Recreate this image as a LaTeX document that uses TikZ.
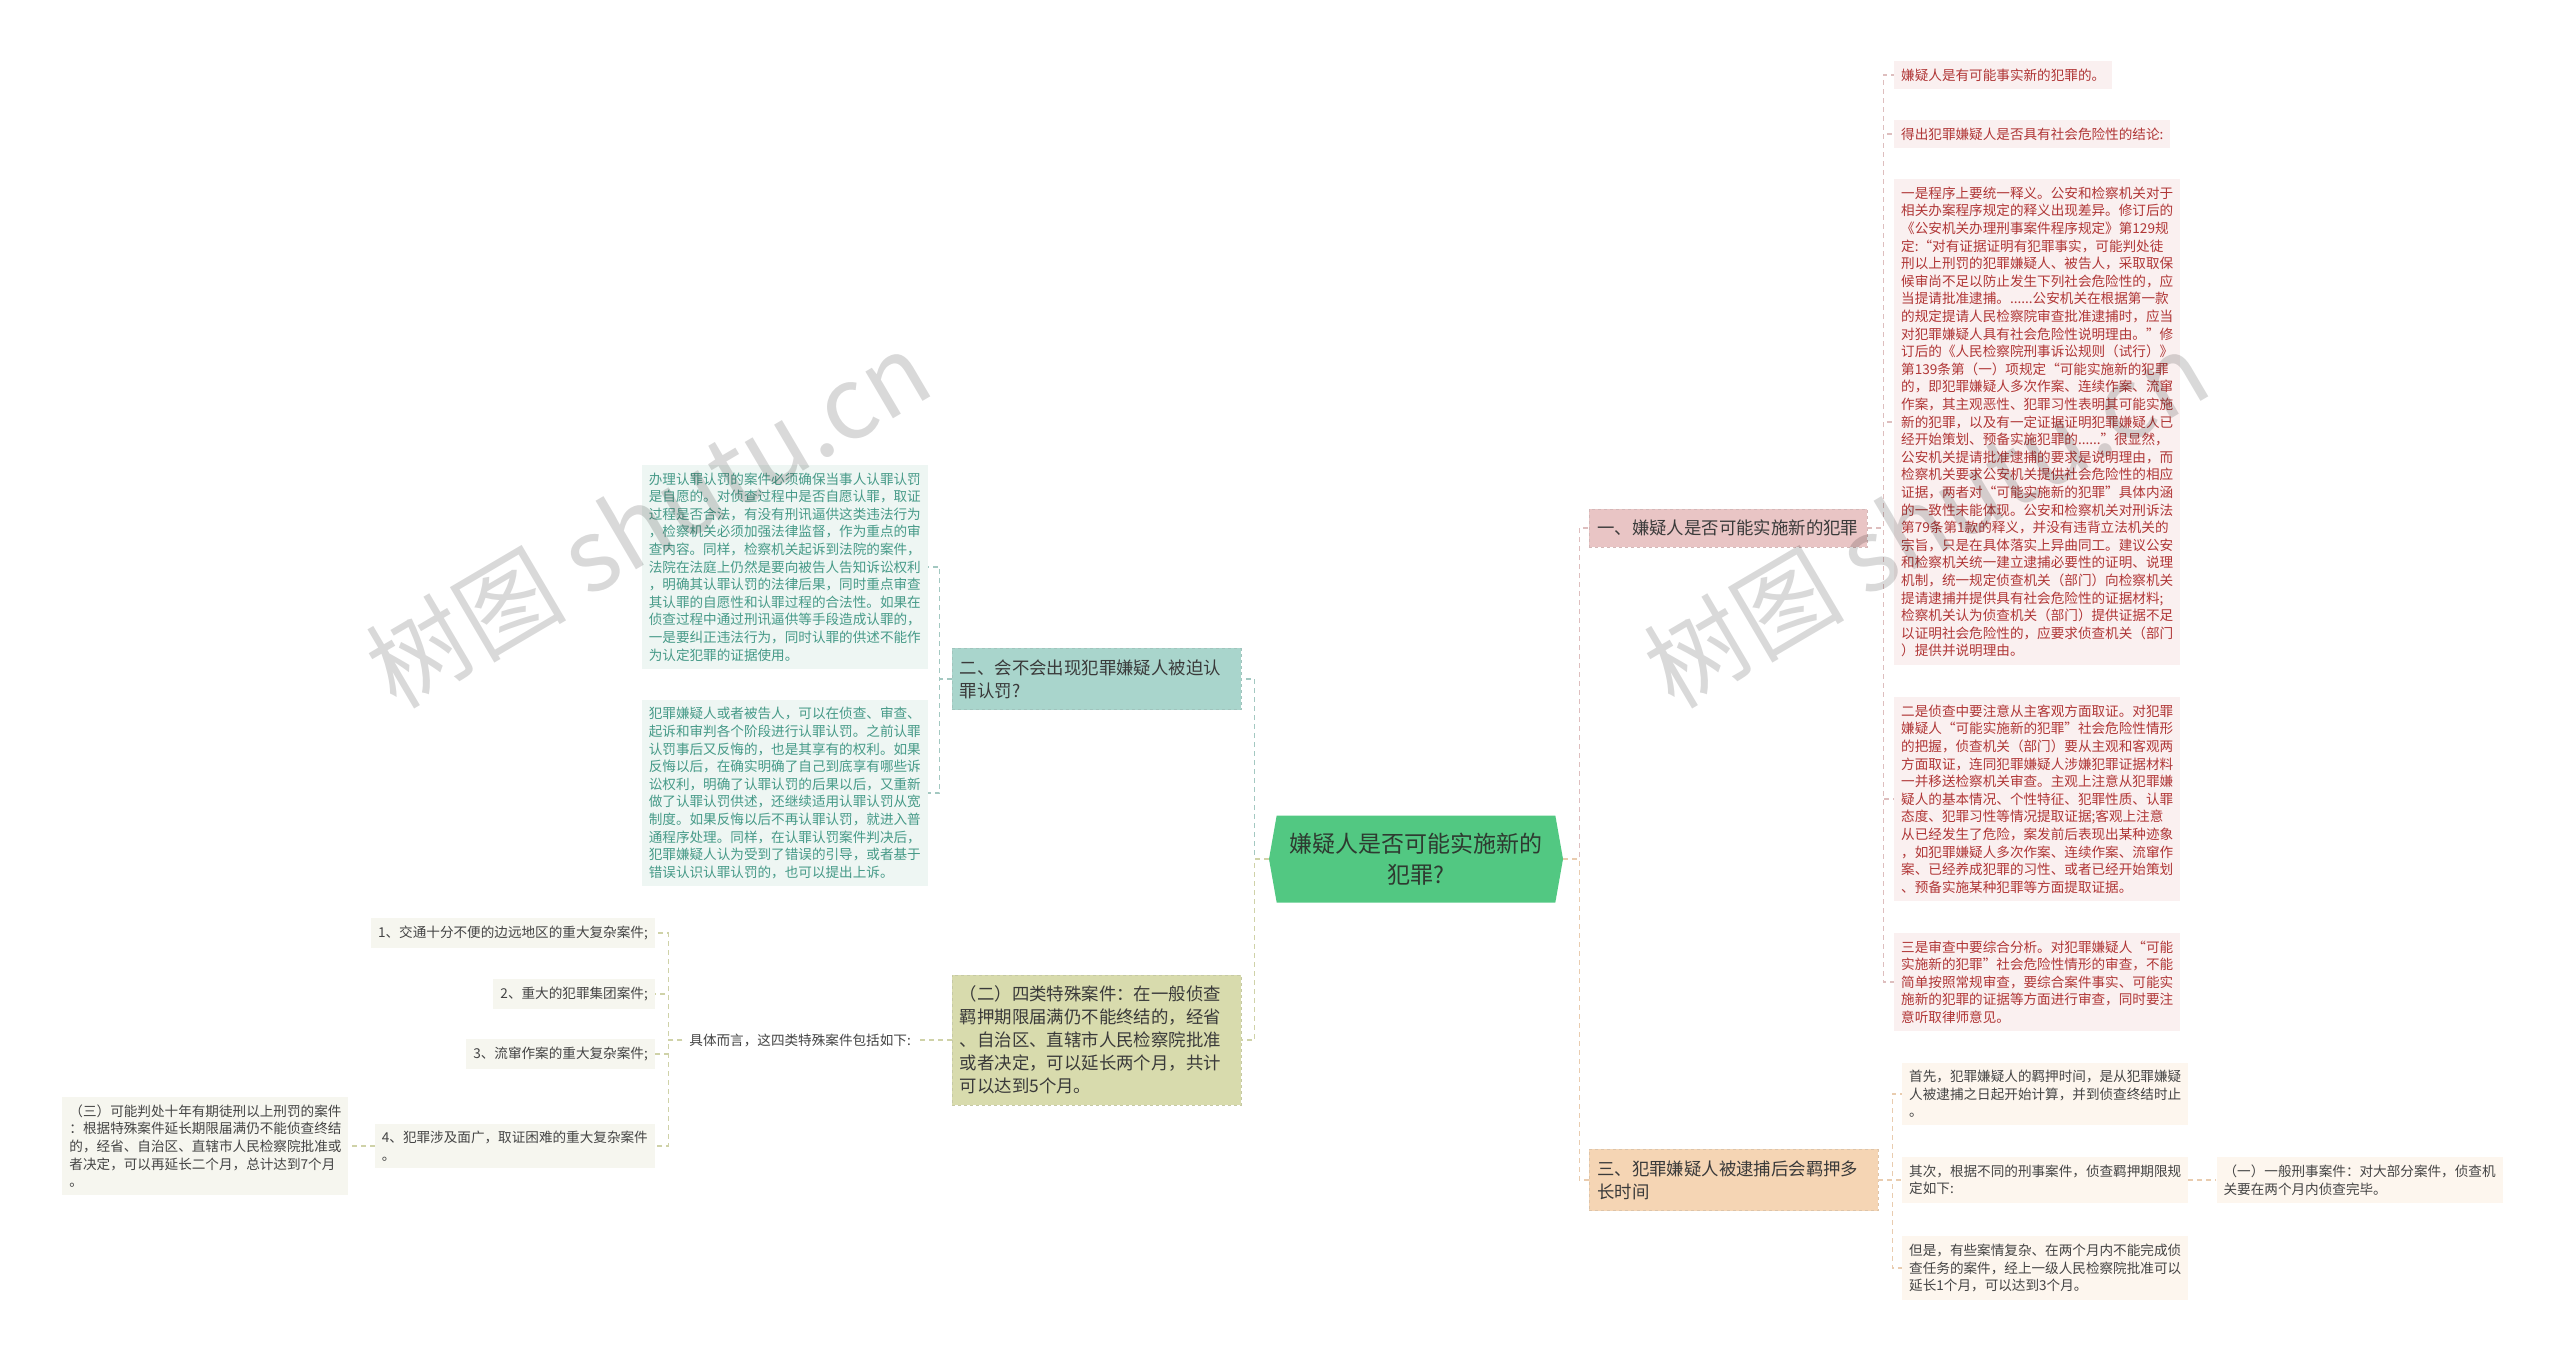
\documentclass[tikz,border=0pt]{standalone}
\usepackage{fontspec}
\setmainfont{Noto Sans CJK SC}
\usepackage{tikz}
\usetikzlibrary{positioning,shapes.symbols}
\definecolor{rootg}{HTML}{52C882}
\definecolor{roott}{HTML}{2E3A30}
\definecolor{tealb}{HTML}{A9D5CC}
\definecolor{oliveb}{HTML}{D8DBAD}
\definecolor{pinkb}{HTML}{E9C5C5}
\definecolor{peachb}{HTML}{F5D5B4}
\definecolor{tealf}{HTML}{EEF6F3}
\definecolor{pinkf}{HTML}{FAF0F0}
\definecolor{peachf}{HTML}{FDF6EE}
\definecolor{olivef}{HTML}{F6F6EF}
\definecolor{tealt}{HTML}{469A88}
\definecolor{redt}{HTML}{B03636}
\definecolor{subt}{HTML}{3A3A3A}
\definecolor{leaft}{HTML}{444444}

\begin{document}
\begin{tikzpicture}[x=1pt,y=-1pt,
  root/.style={signal,signal to=east and west,signal pointer angle=160,fill=rootg,text=roott,
    font=\fontsize{23}{31}\selectfont,align=center,minimum width=294pt,minimum height=87pt},
  sub/.style={draw=#1!80!gray,dashed,fill=#1,text=subt,font=\fontsize{17.4}{23}\selectfont,
    align=left,inner xsep=8pt,inner ysep=11pt},
  leaf/.style={fill=#1,font=\fontsize{13.6}{17.6}\selectfont,align=left,inner xsep=7pt,inner ysep=7.5pt},
  ln/.style={draw=#1,dashed,dash pattern=on 5pt off 4pt,line width=1.2pt},
  wm/.style={text=black,text opacity=0.15,font=\fontsize{100}{100}\selectfont,rotate=30.5}]
  \useasboundingbox (0,0) rectangle (2560,1359);

  \node[root] (root) at (1416,859) {嫌疑人是否可能实施新的\\犯罪?};

  \node[sub=tealb,text width=273pt,anchor=east] (br2) at (1241,679) {二、会不会出现犯罪嫌疑人被迫认\\罪认罚?};
  \node[sub=oliveb,text width=273pt,anchor=east] (brs) at (1241,1040) {（二）四类特殊案件：在一般侦查\\羁押期限届满仍不能终结的，经省\\、自治区、直辖市人民检察院批准\\或者决定，可以延长两个月，共计\\可以达到5个月。};
  \node[sub=pinkb,text width=262pt,anchor=west] (br1) at (1589,528) {一、嫌疑人是否可能实施新的犯罪};
  \node[sub=peachb,text width=273pt,anchor=west] (br3) at (1589,1180) {三、犯罪嫌疑人被逮捕后会羁押多\\长时间};

  \node[leaf=tealf,text=tealt,anchor=east] (g1) at (928,567) {办理认罪认罚的案件必须确保当事人认罪认罚\\是自愿的。对侦查过程中是否自愿认罪，取证\\过程是否合法，有没有刑讯逼供这类违法行为\\，检察机关必须加强法律监督，作为重点的审\\查内容。同样，检察机关起诉到法院的案件，\\法院在法庭上仍然是要向被告人告知诉讼权利\\，明确其认罪认罚的法律后果，同时重点审查\\其认罪的自愿性和认罪过程的合法性。如果在\\侦查过程中通过刑讯逼供等手段造成认罪的，\\一是要纠正违法行为，同时认罪的供述不能作\\为认定犯罪的证据使用。};
  \node[leaf=tealf,text=tealt,anchor=east] (g2) at (928,793) {犯罪嫌疑人或者被告人，可以在侦查、审查、\\起诉和审判各个阶段进行认罪认罚。之前认罪\\认罚事后又反悔的，也是其享有的权利。如果\\反悔以后，在确实明确了自己到底享有哪些诉\\讼权利，明确了认罪认罚的后果以后，又重新\\做了认罪认罚供述，还继续适用认罪认罚从宽\\制度。如果反悔以后不再认罪认罚，就进入普\\通程序处理。同样，在认罪认罚案件判决后，\\犯罪嫌疑人认为受到了错误的引导，或者基于\\错误认识认罪认罚的，也可以提出上诉。};

  \node[leaf=white,text=leaft,anchor=east] (kt) at (918,1040) {具体而言，这四类特殊案件包括如下:};
  \node[leaf=olivef,text=leaft,anchor=east] (it1) at (655,933) {1、交通十分不便的边远地区的重大复杂案件;};
  \node[leaf=olivef,text=leaft,anchor=east] (it2) at (655,994) {2、重大的犯罪集团案件;};
  \node[leaf=olivef,text=leaft,anchor=east] (it3) at (655,1054) {3、流窜作案的重大复杂案件;};
  \node[leaf=olivef,text=leaft,anchor=east] (it4) at (655,1146) {4、犯罪涉及面广，取证困难的重大复杂案件\\。};
  \node[leaf=olivef,text=leaft,left=26pt of it4] (it5) {（三）可能判处十年有期徒刑以上刑罚的案件\\：根据特殊案件延长期限届满仍不能侦查终结\\的，经省、自治区、直辖市人民检察院批准或\\者决定，可以再延长二个月，总计达到7个月\\。};

  \node[leaf=pinkf,text=redt,anchor=west] (ra) at (1894,75) {嫌疑人是有可能事实新的犯罪的。};
  \node[leaf=pinkf,text=redt,anchor=west] (rb) at (1894,134) {得出犯罪嫌疑人是否具有社会危险性的结论:};
  \node[leaf=pinkf,text=redt,anchor=west] (rc) at (1894,422) {一是程序上要统一释义。公安和检察机关对于\\相关办案程序规定的释义出现差异。修订后的\\《公安机关办理刑事案件程序规定》第129规\\定:“对有证据证明有犯罪事实，可能判处徒\\刑以上刑罚的犯罪嫌疑人、被告人，采取取保\\候审尚不足以防止发生下列社会危险性的，应\\当提请批准逮捕。......公安机关在根据第一款\\的规定提请人民检察院审查批准逮捕时，应当\\对犯罪嫌疑人具有社会危险性说明理由。”修\\订后的《人民检察院刑事诉讼规则（试行）》\\第139条第（一）项规定“可能实施新的犯罪\\的，即犯罪嫌疑人多次作案、连续作案、流窜\\作案，其主观恶性、犯罪习性表明其可能实施\\新的犯罪，以及有一定证据证明犯罪嫌疑人已\\经开始策划、预备实施犯罪的......”很显然，\\公安机关提请批准逮捕的要求是说明理由，而\\检察机关要求公安机关提供社会危险性的相应\\证据，两者对“可能实施新的犯罪”具体内涵\\的一致性未能体现。公安和检察机关对刑诉法\\第79条第1款的释义，并没有违背立法机关的\\宗旨，只是在具体落实上异曲同工。建议公安\\和检察机关统一建立逮捕必要性的证明、说理\\机制，统一规定侦查机关（部门）向检察机关\\提请逮捕并提供具有社会危险性的证据材料;\\检察机关认为侦查机关（部门）提供证据不足\\以证明社会危险性的，应要求侦查机关（部门\\）提供并说明理由。};
  \node[leaf=pinkf,text=redt,anchor=west] (rd) at (1894,799) {二是侦查中要注意从主客观方面取证。对犯罪\\嫌疑人“可能实施新的犯罪”社会危险性情形\\的把握，侦查机关（部门）要从主观和客观两\\方面取证，连同犯罪嫌疑人涉嫌犯罪证据材料\\一并移送检察机关审查。主观上注意从犯罪嫌\\疑人的基本情况、个性特征、犯罪性质、认罪\\态度、犯罪习性等情况提取证据;客观上注意\\从已经发生了危险，案发前后表现出某种迹象\\，如犯罪嫌疑人多次作案、连续作案、流窜作\\案、已经养成犯罪的习性、或者已经开始策划\\、预备实施某种犯罪等方面提取证据。};
  \node[leaf=pinkf,text=redt,anchor=west] (re) at (1894,982) {三是审查中要综合分析。对犯罪嫌疑人“可能\\实施新的犯罪”社会危险性情形的审查，不能\\简单按照常规审查，要综合案件事实、可能实\\施新的犯罪的证据等方面进行审查，同时要注\\意听取律师意见。};

  \node[leaf=peachf,text=leaft,anchor=west] (pf) at (1902,1094) {首先，犯罪嫌疑人的羁押时间，是从犯罪嫌疑\\人被逮捕之日起开始计算，并到侦查终结时止\\。};
  \node[leaf=peachf,text=leaft,anchor=west] (pg) at (1902,1180) {其次，根据不同的刑事案件，侦查羁押期限规\\定如下:};
  \node[leaf=peachf,text=leaft,anchor=west] (ph) at (1902,1268) {但是，有些案情复杂、在两个月内不能完成侦\\查任务的案件，经上一级人民检察院批准可以\\延长1个月，可以达到3个月。};
  \node[leaf=peachf,text=leaft,right=28pt of pg] (pi) {（一）一般刑事案件：对大部分案件，侦查机\\关要在两个月内侦查完毕。};

  \draw[ln=tealb!85!gray] (root.west) -- ++(-14,0) |- (br2.east);
  \draw[ln=oliveb!90!gray] (root.west) -- ++(-14,0) |- (brs.east);
  \draw[ln=pinkb!90!gray] (root.east) -- ++(16,0) |- (br1.west);
  \draw[ln=peachb!90!gray] (root.east) -- ++(16,0) |- (br3.west);
  \foreach \n in {g1,g2} {\draw[ln=tealb!85!gray] (br2.west) -- ++(-12,0) |- (\n.east);}
  \draw[ln=oliveb!90!gray] (brs.west) -- (kt.east);
  \foreach \n in {it1,it2,it3,it4} {\draw[ln=oliveb!90!gray] (kt.west) -- ++(-14,0) |- (\n.east);}
  \draw[ln=oliveb!90!gray] (it4.west) -- (it5.east);
  \foreach \n in {ra,rb,rc,rd,re} {\draw[ln=pinkb!90!gray] (br1.east) -- ++(16,0) |- (\n.west);}
  \foreach \n in {pf,pg,ph} {\draw[ln=peachb!90!gray] (br3.east) -- ++(14,0) |- (\n.west);}
  \draw[ln=peachb!90!gray] (pg.east) -- (pi.west);

  \foreach \wx/\wy in {648/519,1926/519}
    \node[wm] at (\wx,\wy) {树图 shutu.cn};
\end{tikzpicture}
\end{document}
